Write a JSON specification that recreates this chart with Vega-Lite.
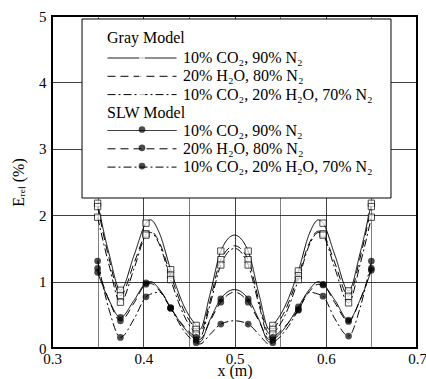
{
  "$schema": "https://vega.github.io/schema/vega-lite/v6.json",
  "width": 365,
  "height": 332,
  "autosize": "none",
  "padding": {"left": 52, "top": 16, "right": 9, "bottom": 31},
  "background": "white",
  "config": {
    "font": "Liberation Serif",
    "view": {"stroke": "black", "strokeWidth": 2},
    "axis": {
      "labelFont": "Liberation Serif",
      "titleFont": "Liberation Serif",
      "labelFontSize": 15,
      "titleFontSize": 16,
      "titleFontWeight": "normal",
      "labelColor": "black",
      "titleColor": "black",
      "domain": false,
      "ticks": false,
      "gridColor": "black",
      "gridOpacity": 1,
      "gridWidth": 1,
      "labelFlush": false,
      "labelOverlap": false
    },
    "legend": {
      "orient": "none",
      "padding": 0,
      "titleFont": "Liberation Serif",
      "titleFontSize": 16,
      "titleFontWeight": "normal",
      "titleColor": "black",
      "labelFont": "Liberation Serif",
      "labelFontSize": 16,
      "labelColor": "black",
      "labelLimit": 400,
      "clipHeight": 16,
      "rowPadding": 2.3,
      "symbolStrokeColor": "black",
      "symbolStrokeWidth": 1
    }
  },
  "datasets": {
    "curves": [
      {"model": "Gray", "case": "10% CO₂, 90% N₂", "x": 0.35, "y": 2.18},
      {"model": "Gray", "case": "10% CO₂, 90% N₂", "x": 0.3625, "y": 1.42},
      {"model": "Gray", "case": "10% CO₂, 90% N₂", "x": 0.375, "y": 0.87},
      {"model": "Gray", "case": "10% CO₂, 90% N₂", "x": 0.39, "y": 1.40},
      {"model": "Gray", "case": "10% CO₂, 90% N₂", "x": 0.403, "y": 1.88},
      {"model": "Gray", "case": "10% CO₂, 90% N₂", "x": 0.408, "y": 1.93},
      {"model": "Gray", "case": "10% CO₂, 90% N₂", "x": 0.418, "y": 1.72},
      {"model": "Gray", "case": "10% CO₂, 90% N₂", "x": 0.43, "y": 1.18},
      {"model": "Gray", "case": "10% CO₂, 90% N₂", "x": 0.445, "y": 0.62},
      {"model": "Gray", "case": "10% CO₂, 90% N₂", "x": 0.458, "y": 0.34},
      {"model": "Gray", "case": "10% CO₂, 90% N₂", "x": 0.462, "y": 0.28},
      {"model": "Gray", "case": "10% CO₂, 90% N₂", "x": 0.473, "y": 0.80},
      {"model": "Gray", "case": "10% CO₂, 90% N₂", "x": 0.485, "y": 1.46},
      {"model": "Gray", "case": "10% CO₂, 90% N₂", "x": 0.5, "y": 1.70},
      {"model": "Gray", "case": "10% CO₂, 90% N₂", "x": 0.515, "y": 1.46},
      {"model": "Gray", "case": "10% CO₂, 90% N₂", "x": 0.527, "y": 0.80},
      {"model": "Gray", "case": "10% CO₂, 90% N₂", "x": 0.538, "y": 0.28},
      {"model": "Gray", "case": "10% CO₂, 90% N₂", "x": 0.542, "y": 0.34},
      {"model": "Gray", "case": "10% CO₂, 90% N₂", "x": 0.555, "y": 0.62},
      {"model": "Gray", "case": "10% CO₂, 90% N₂", "x": 0.57, "y": 1.16},
      {"model": "Gray", "case": "10% CO₂, 90% N₂", "x": 0.582, "y": 1.72},
      {"model": "Gray", "case": "10% CO₂, 90% N₂", "x": 0.592, "y": 1.93},
      {"model": "Gray", "case": "10% CO₂, 90% N₂", "x": 0.597, "y": 1.88},
      {"model": "Gray", "case": "10% CO₂, 90% N₂", "x": 0.61, "y": 1.40},
      {"model": "Gray", "case": "10% CO₂, 90% N₂", "x": 0.625, "y": 0.86},
      {"model": "Gray", "case": "10% CO₂, 90% N₂", "x": 0.6375, "y": 1.42},
      {"model": "Gray", "case": "10% CO₂, 90% N₂", "x": 0.65, "y": 2.18},

      {"model": "Gray", "case": "20% H₂O, 80% N₂", "x": 0.35, "y": 2.13},
      {"model": "Gray", "case": "20% H₂O, 80% N₂", "x": 0.3625, "y": 1.35},
      {"model": "Gray", "case": "20% H₂O, 80% N₂", "x": 0.375, "y": 0.79},
      {"model": "Gray", "case": "20% H₂O, 80% N₂", "x": 0.39, "y": 1.28},
      {"model": "Gray", "case": "20% H₂O, 80% N₂", "x": 0.403, "y": 1.72},
      {"model": "Gray", "case": "20% H₂O, 80% N₂", "x": 0.408, "y": 1.76},
      {"model": "Gray", "case": "20% H₂O, 80% N₂", "x": 0.418, "y": 1.58},
      {"model": "Gray", "case": "20% H₂O, 80% N₂", "x": 0.43, "y": 1.10},
      {"model": "Gray", "case": "20% H₂O, 80% N₂", "x": 0.445, "y": 0.55},
      {"model": "Gray", "case": "20% H₂O, 80% N₂", "x": 0.458, "y": 0.28},
      {"model": "Gray", "case": "20% H₂O, 80% N₂", "x": 0.462, "y": 0.22},
      {"model": "Gray", "case": "20% H₂O, 80% N₂", "x": 0.473, "y": 0.70},
      {"model": "Gray", "case": "20% H₂O, 80% N₂", "x": 0.485, "y": 1.33},
      {"model": "Gray", "case": "20% H₂O, 80% N₂", "x": 0.5, "y": 1.54},
      {"model": "Gray", "case": "20% H₂O, 80% N₂", "x": 0.515, "y": 1.33},
      {"model": "Gray", "case": "20% H₂O, 80% N₂", "x": 0.527, "y": 0.70},
      {"model": "Gray", "case": "20% H₂O, 80% N₂", "x": 0.538, "y": 0.22},
      {"model": "Gray", "case": "20% H₂O, 80% N₂", "x": 0.542, "y": 0.28},
      {"model": "Gray", "case": "20% H₂O, 80% N₂", "x": 0.555, "y": 0.55},
      {"model": "Gray", "case": "20% H₂O, 80% N₂", "x": 0.57, "y": 1.09},
      {"model": "Gray", "case": "20% H₂O, 80% N₂", "x": 0.582, "y": 1.58},
      {"model": "Gray", "case": "20% H₂O, 80% N₂", "x": 0.592, "y": 1.76},
      {"model": "Gray", "case": "20% H₂O, 80% N₂", "x": 0.597, "y": 1.72},
      {"model": "Gray", "case": "20% H₂O, 80% N₂", "x": 0.61, "y": 1.28},
      {"model": "Gray", "case": "20% H₂O, 80% N₂", "x": 0.625, "y": 0.78},
      {"model": "Gray", "case": "20% H₂O, 80% N₂", "x": 0.6375, "y": 1.35},
      {"model": "Gray", "case": "20% H₂O, 80% N₂", "x": 0.65, "y": 2.13},

      {"model": "Gray", "case": "10% CO₂, 20% H₂O, 70% N₂", "x": 0.35, "y": 1.97},
      {"model": "Gray", "case": "10% CO₂, 20% H₂O, 70% N₂", "x": 0.3625, "y": 1.25},
      {"model": "Gray", "case": "10% CO₂, 20% H₂O, 70% N₂", "x": 0.375, "y": 0.69},
      {"model": "Gray", "case": "10% CO₂, 20% H₂O, 70% N₂", "x": 0.39, "y": 1.20},
      {"model": "Gray", "case": "10% CO₂, 20% H₂O, 70% N₂", "x": 0.403, "y": 1.70},
      {"model": "Gray", "case": "10% CO₂, 20% H₂O, 70% N₂", "x": 0.408, "y": 1.74},
      {"model": "Gray", "case": "10% CO₂, 20% H₂O, 70% N₂", "x": 0.418, "y": 1.55},
      {"model": "Gray", "case": "10% CO₂, 20% H₂O, 70% N₂", "x": 0.43, "y": 1.03},
      {"model": "Gray", "case": "10% CO₂, 20% H₂O, 70% N₂", "x": 0.445, "y": 0.48},
      {"model": "Gray", "case": "10% CO₂, 20% H₂O, 70% N₂", "x": 0.458, "y": 0.21},
      {"model": "Gray", "case": "10% CO₂, 20% H₂O, 70% N₂", "x": 0.462, "y": 0.16},
      {"model": "Gray", "case": "10% CO₂, 20% H₂O, 70% N₂", "x": 0.473, "y": 0.64},
      {"model": "Gray", "case": "10% CO₂, 20% H₂O, 70% N₂", "x": 0.485, "y": 1.25},
      {"model": "Gray", "case": "10% CO₂, 20% H₂O, 70% N₂", "x": 0.5, "y": 1.50},
      {"model": "Gray", "case": "10% CO₂, 20% H₂O, 70% N₂", "x": 0.515, "y": 1.25},
      {"model": "Gray", "case": "10% CO₂, 20% H₂O, 70% N₂", "x": 0.527, "y": 0.64},
      {"model": "Gray", "case": "10% CO₂, 20% H₂O, 70% N₂", "x": 0.538, "y": 0.16},
      {"model": "Gray", "case": "10% CO₂, 20% H₂O, 70% N₂", "x": 0.542, "y": 0.21},
      {"model": "Gray", "case": "10% CO₂, 20% H₂O, 70% N₂", "x": 0.555, "y": 0.48},
      {"model": "Gray", "case": "10% CO₂, 20% H₂O, 70% N₂", "x": 0.57, "y": 1.03},
      {"model": "Gray", "case": "10% CO₂, 20% H₂O, 70% N₂", "x": 0.582, "y": 1.55},
      {"model": "Gray", "case": "10% CO₂, 20% H₂O, 70% N₂", "x": 0.592, "y": 1.74},
      {"model": "Gray", "case": "10% CO₂, 20% H₂O, 70% N₂", "x": 0.597, "y": 1.70},
      {"model": "Gray", "case": "10% CO₂, 20% H₂O, 70% N₂", "x": 0.61, "y": 1.20},
      {"model": "Gray", "case": "10% CO₂, 20% H₂O, 70% N₂", "x": 0.625, "y": 0.68},
      {"model": "Gray", "case": "10% CO₂, 20% H₂O, 70% N₂", "x": 0.6375, "y": 1.25},
      {"model": "Gray", "case": "10% CO₂, 20% H₂O, 70% N₂", "x": 0.65, "y": 1.97},

      {"model": "SLW", "case": "10% CO₂, 90% N₂", "x": 0.35, "y": 1.14},
      {"model": "SLW", "case": "10% CO₂, 90% N₂", "x": 0.3625, "y": 0.72},
      {"model": "SLW", "case": "10% CO₂, 90% N₂", "x": 0.375, "y": 0.46},
      {"model": "SLW", "case": "10% CO₂, 90% N₂", "x": 0.39, "y": 0.72},
      {"model": "SLW", "case": "10% CO₂, 90% N₂", "x": 0.403, "y": 0.98},
      {"model": "SLW", "case": "10% CO₂, 90% N₂", "x": 0.408, "y": 1.00},
      {"model": "SLW", "case": "10% CO₂, 90% N₂", "x": 0.418, "y": 0.88},
      {"model": "SLW", "case": "10% CO₂, 90% N₂", "x": 0.43, "y": 0.61},
      {"model": "SLW", "case": "10% CO₂, 90% N₂", "x": 0.445, "y": 0.30},
      {"model": "SLW", "case": "10% CO₂, 90% N₂", "x": 0.458, "y": 0.12},
      {"model": "SLW", "case": "10% CO₂, 90% N₂", "x": 0.462, "y": 0.09},
      {"model": "SLW", "case": "10% CO₂, 90% N₂", "x": 0.473, "y": 0.42},
      {"model": "SLW", "case": "10% CO₂, 90% N₂", "x": 0.485, "y": 0.74},
      {"model": "SLW", "case": "10% CO₂, 90% N₂", "x": 0.5, "y": 0.88},
      {"model": "SLW", "case": "10% CO₂, 90% N₂", "x": 0.515, "y": 0.74},
      {"model": "SLW", "case": "10% CO₂, 90% N₂", "x": 0.527, "y": 0.42},
      {"model": "SLW", "case": "10% CO₂, 90% N₂", "x": 0.538, "y": 0.09},
      {"model": "SLW", "case": "10% CO₂, 90% N₂", "x": 0.542, "y": 0.12},
      {"model": "SLW", "case": "10% CO₂, 90% N₂", "x": 0.555, "y": 0.30},
      {"model": "SLW", "case": "10% CO₂, 90% N₂", "x": 0.57, "y": 0.62},
      {"model": "SLW", "case": "10% CO₂, 90% N₂", "x": 0.582, "y": 0.88},
      {"model": "SLW", "case": "10% CO₂, 90% N₂", "x": 0.592, "y": 1.00},
      {"model": "SLW", "case": "10% CO₂, 90% N₂", "x": 0.597, "y": 0.96},
      {"model": "SLW", "case": "10% CO₂, 90% N₂", "x": 0.61, "y": 0.72},
      {"model": "SLW", "case": "10% CO₂, 90% N₂", "x": 0.625, "y": 0.42},
      {"model": "SLW", "case": "10% CO₂, 90% N₂", "x": 0.6375, "y": 0.72},
      {"model": "SLW", "case": "10% CO₂, 90% N₂", "x": 0.65, "y": 1.17},

      {"model": "SLW", "case": "20% H₂O, 80% N₂", "x": 0.35, "y": 1.20},
      {"model": "SLW", "case": "20% H₂O, 80% N₂", "x": 0.3625, "y": 0.72},
      {"model": "SLW", "case": "20% H₂O, 80% N₂", "x": 0.375, "y": 0.41},
      {"model": "SLW", "case": "20% H₂O, 80% N₂", "x": 0.39, "y": 0.68},
      {"model": "SLW", "case": "20% H₂O, 80% N₂", "x": 0.403, "y": 0.96},
      {"model": "SLW", "case": "20% H₂O, 80% N₂", "x": 0.408, "y": 0.97},
      {"model": "SLW", "case": "20% H₂O, 80% N₂", "x": 0.418, "y": 0.86},
      {"model": "SLW", "case": "20% H₂O, 80% N₂", "x": 0.43, "y": 0.60},
      {"model": "SLW", "case": "20% H₂O, 80% N₂", "x": 0.445, "y": 0.32},
      {"model": "SLW", "case": "20% H₂O, 80% N₂", "x": 0.458, "y": 0.16},
      {"model": "SLW", "case": "20% H₂O, 80% N₂", "x": 0.462, "y": 0.13},
      {"model": "SLW", "case": "20% H₂O, 80% N₂", "x": 0.473, "y": 0.40},
      {"model": "SLW", "case": "20% H₂O, 80% N₂", "x": 0.485, "y": 0.69},
      {"model": "SLW", "case": "20% H₂O, 80% N₂", "x": 0.5, "y": 0.84},
      {"model": "SLW", "case": "20% H₂O, 80% N₂", "x": 0.515, "y": 0.69},
      {"model": "SLW", "case": "20% H₂O, 80% N₂", "x": 0.527, "y": 0.40},
      {"model": "SLW", "case": "20% H₂O, 80% N₂", "x": 0.538, "y": 0.13},
      {"model": "SLW", "case": "20% H₂O, 80% N₂", "x": 0.542, "y": 0.16},
      {"model": "SLW", "case": "20% H₂O, 80% N₂", "x": 0.555, "y": 0.32},
      {"model": "SLW", "case": "20% H₂O, 80% N₂", "x": 0.57, "y": 0.58},
      {"model": "SLW", "case": "20% H₂O, 80% N₂", "x": 0.582, "y": 0.85},
      {"model": "SLW", "case": "20% H₂O, 80% N₂", "x": 0.592, "y": 0.96},
      {"model": "SLW", "case": "20% H₂O, 80% N₂", "x": 0.597, "y": 0.95},
      {"model": "SLW", "case": "20% H₂O, 80% N₂", "x": 0.61, "y": 0.68},
      {"model": "SLW", "case": "20% H₂O, 80% N₂", "x": 0.625, "y": 0.40},
      {"model": "SLW", "case": "20% H₂O, 80% N₂", "x": 0.6375, "y": 0.72},
      {"model": "SLW", "case": "20% H₂O, 80% N₂", "x": 0.65, "y": 1.20},

      {"model": "SLW", "case": "10% CO₂, 20% H₂O, 70% N₂", "x": 0.35, "y": 1.31},
      {"model": "SLW", "case": "10% CO₂, 20% H₂O, 70% N₂", "x": 0.3625, "y": 0.58},
      {"model": "SLW", "case": "10% CO₂, 20% H₂O, 70% N₂", "x": 0.375, "y": 0.16},
      {"model": "SLW", "case": "10% CO₂, 20% H₂O, 70% N₂", "x": 0.39, "y": 0.44},
      {"model": "SLW", "case": "10% CO₂, 20% H₂O, 70% N₂", "x": 0.403, "y": 0.77},
      {"model": "SLW", "case": "10% CO₂, 20% H₂O, 70% N₂", "x": 0.408, "y": 0.81},
      {"model": "SLW", "case": "10% CO₂, 20% H₂O, 70% N₂", "x": 0.418, "y": 0.84},
      {"model": "SLW", "case": "10% CO₂, 20% H₂O, 70% N₂", "x": 0.43, "y": 0.60},
      {"model": "SLW", "case": "10% CO₂, 20% H₂O, 70% N₂", "x": 0.445, "y": 0.25},
      {"model": "SLW", "case": "10% CO₂, 20% H₂O, 70% N₂", "x": 0.458, "y": 0.08},
      {"model": "SLW", "case": "10% CO₂, 20% H₂O, 70% N₂", "x": 0.462, "y": 0.06},
      {"model": "SLW", "case": "10% CO₂, 20% H₂O, 70% N₂", "x": 0.473, "y": 0.20},
      {"model": "SLW", "case": "10% CO₂, 20% H₂O, 70% N₂", "x": 0.485, "y": 0.36},
      {"model": "SLW", "case": "10% CO₂, 20% H₂O, 70% N₂", "x": 0.5, "y": 0.41},
      {"model": "SLW", "case": "10% CO₂, 20% H₂O, 70% N₂", "x": 0.515, "y": 0.36},
      {"model": "SLW", "case": "10% CO₂, 20% H₂O, 70% N₂", "x": 0.527, "y": 0.20},
      {"model": "SLW", "case": "10% CO₂, 20% H₂O, 70% N₂", "x": 0.538, "y": 0.06},
      {"model": "SLW", "case": "10% CO₂, 20% H₂O, 70% N₂", "x": 0.542, "y": 0.08},
      {"model": "SLW", "case": "10% CO₂, 20% H₂O, 70% N₂", "x": 0.555, "y": 0.25},
      {"model": "SLW", "case": "10% CO₂, 20% H₂O, 70% N₂", "x": 0.57, "y": 0.57},
      {"model": "SLW", "case": "10% CO₂, 20% H₂O, 70% N₂", "x": 0.582, "y": 0.84},
      {"model": "SLW", "case": "10% CO₂, 20% H₂O, 70% N₂", "x": 0.592, "y": 0.81},
      {"model": "SLW", "case": "10% CO₂, 20% H₂O, 70% N₂", "x": 0.597, "y": 0.78},
      {"model": "SLW", "case": "10% CO₂, 20% H₂O, 70% N₂", "x": 0.61, "y": 0.44},
      {"model": "SLW", "case": "10% CO₂, 20% H₂O, 70% N₂", "x": 0.625, "y": 0.18},
      {"model": "SLW", "case": "10% CO₂, 20% H₂O, 70% N₂", "x": 0.6375, "y": 0.60},
      {"model": "SLW", "case": "10% CO₂, 20% H₂O, 70% N₂", "x": 0.65, "y": 1.31}
    ],
    "markers": [
      {"model": "Gray", "case": "10% CO₂, 90% N₂", "x": 0.35, "y": 2.18},
      {"model": "Gray", "case": "10% CO₂, 90% N₂", "x": 0.375, "y": 0.87},
      {"model": "Gray", "case": "10% CO₂, 90% N₂", "x": 0.403, "y": 1.88},
      {"model": "Gray", "case": "10% CO₂, 90% N₂", "x": 0.43, "y": 1.18},
      {"model": "Gray", "case": "10% CO₂, 90% N₂", "x": 0.458, "y": 0.34},
      {"model": "Gray", "case": "10% CO₂, 90% N₂", "x": 0.485, "y": 1.46},
      {"model": "Gray", "case": "10% CO₂, 90% N₂", "x": 0.515, "y": 1.46},
      {"model": "Gray", "case": "10% CO₂, 90% N₂", "x": 0.542, "y": 0.34},
      {"model": "Gray", "case": "10% CO₂, 90% N₂", "x": 0.57, "y": 1.16},
      {"model": "Gray", "case": "10% CO₂, 90% N₂", "x": 0.597, "y": 1.88},
      {"model": "Gray", "case": "10% CO₂, 90% N₂", "x": 0.625, "y": 0.86},
      {"model": "Gray", "case": "10% CO₂, 90% N₂", "x": 0.65, "y": 2.18},
      {"model": "Gray", "case": "20% H₂O, 80% N₂", "x": 0.35, "y": 2.13},
      {"model": "Gray", "case": "20% H₂O, 80% N₂", "x": 0.375, "y": 0.79},
      {"model": "Gray", "case": "20% H₂O, 80% N₂", "x": 0.403, "y": 1.72},
      {"model": "Gray", "case": "20% H₂O, 80% N₂", "x": 0.43, "y": 1.10},
      {"model": "Gray", "case": "20% H₂O, 80% N₂", "x": 0.458, "y": 0.28},
      {"model": "Gray", "case": "20% H₂O, 80% N₂", "x": 0.485, "y": 1.33},
      {"model": "Gray", "case": "20% H₂O, 80% N₂", "x": 0.515, "y": 1.33},
      {"model": "Gray", "case": "20% H₂O, 80% N₂", "x": 0.542, "y": 0.28},
      {"model": "Gray", "case": "20% H₂O, 80% N₂", "x": 0.57, "y": 1.09},
      {"model": "Gray", "case": "20% H₂O, 80% N₂", "x": 0.597, "y": 1.72},
      {"model": "Gray", "case": "20% H₂O, 80% N₂", "x": 0.625, "y": 0.78},
      {"model": "Gray", "case": "20% H₂O, 80% N₂", "x": 0.65, "y": 2.13},
      {"model": "Gray", "case": "10% CO₂, 20% H₂O, 70% N₂", "x": 0.35, "y": 1.97},
      {"model": "Gray", "case": "10% CO₂, 20% H₂O, 70% N₂", "x": 0.375, "y": 0.69},
      {"model": "Gray", "case": "10% CO₂, 20% H₂O, 70% N₂", "x": 0.403, "y": 1.70},
      {"model": "Gray", "case": "10% CO₂, 20% H₂O, 70% N₂", "x": 0.43, "y": 1.03},
      {"model": "Gray", "case": "10% CO₂, 20% H₂O, 70% N₂", "x": 0.458, "y": 0.21},
      {"model": "Gray", "case": "10% CO₂, 20% H₂O, 70% N₂", "x": 0.485, "y": 1.25},
      {"model": "Gray", "case": "10% CO₂, 20% H₂O, 70% N₂", "x": 0.515, "y": 1.25},
      {"model": "Gray", "case": "10% CO₂, 20% H₂O, 70% N₂", "x": 0.542, "y": 0.21},
      {"model": "Gray", "case": "10% CO₂, 20% H₂O, 70% N₂", "x": 0.57, "y": 1.03},
      {"model": "Gray", "case": "10% CO₂, 20% H₂O, 70% N₂", "x": 0.597, "y": 1.70},
      {"model": "Gray", "case": "10% CO₂, 20% H₂O, 70% N₂", "x": 0.625, "y": 0.68},
      {"model": "Gray", "case": "10% CO₂, 20% H₂O, 70% N₂", "x": 0.65, "y": 1.97},
      {"model": "SLW", "case": "10% CO₂, 90% N₂", "x": 0.35, "y": 1.14},
      {"model": "SLW", "case": "10% CO₂, 90% N₂", "x": 0.375, "y": 0.46},
      {"model": "SLW", "case": "10% CO₂, 90% N₂", "x": 0.403, "y": 0.98},
      {"model": "SLW", "case": "10% CO₂, 90% N₂", "x": 0.43, "y": 0.61},
      {"model": "SLW", "case": "10% CO₂, 90% N₂", "x": 0.458, "y": 0.12},
      {"model": "SLW", "case": "10% CO₂, 90% N₂", "x": 0.485, "y": 0.74},
      {"model": "SLW", "case": "10% CO₂, 90% N₂", "x": 0.515, "y": 0.74},
      {"model": "SLW", "case": "10% CO₂, 90% N₂", "x": 0.542, "y": 0.12},
      {"model": "SLW", "case": "10% CO₂, 90% N₂", "x": 0.57, "y": 0.62},
      {"model": "SLW", "case": "10% CO₂, 90% N₂", "x": 0.597, "y": 0.96},
      {"model": "SLW", "case": "10% CO₂, 90% N₂", "x": 0.625, "y": 0.42},
      {"model": "SLW", "case": "10% CO₂, 90% N₂", "x": 0.65, "y": 1.17},
      {"model": "SLW", "case": "20% H₂O, 80% N₂", "x": 0.35, "y": 1.20},
      {"model": "SLW", "case": "20% H₂O, 80% N₂", "x": 0.375, "y": 0.41},
      {"model": "SLW", "case": "20% H₂O, 80% N₂", "x": 0.403, "y": 0.96},
      {"model": "SLW", "case": "20% H₂O, 80% N₂", "x": 0.43, "y": 0.60},
      {"model": "SLW", "case": "20% H₂O, 80% N₂", "x": 0.458, "y": 0.16},
      {"model": "SLW", "case": "20% H₂O, 80% N₂", "x": 0.485, "y": 0.69},
      {"model": "SLW", "case": "20% H₂O, 80% N₂", "x": 0.515, "y": 0.69},
      {"model": "SLW", "case": "20% H₂O, 80% N₂", "x": 0.542, "y": 0.16},
      {"model": "SLW", "case": "20% H₂O, 80% N₂", "x": 0.57, "y": 0.58},
      {"model": "SLW", "case": "20% H₂O, 80% N₂", "x": 0.597, "y": 0.95},
      {"model": "SLW", "case": "20% H₂O, 80% N₂", "x": 0.625, "y": 0.40},
      {"model": "SLW", "case": "20% H₂O, 80% N₂", "x": 0.65, "y": 1.20},
      {"model": "SLW", "case": "10% CO₂, 20% H₂O, 70% N₂", "x": 0.35, "y": 1.31},
      {"model": "SLW", "case": "10% CO₂, 20% H₂O, 70% N₂", "x": 0.375, "y": 0.16},
      {"model": "SLW", "case": "10% CO₂, 20% H₂O, 70% N₂", "x": 0.403, "y": 0.77},
      {"model": "SLW", "case": "10% CO₂, 20% H₂O, 70% N₂", "x": 0.43, "y": 0.60},
      {"model": "SLW", "case": "10% CO₂, 20% H₂O, 70% N₂", "x": 0.458, "y": 0.08},
      {"model": "SLW", "case": "10% CO₂, 20% H₂O, 70% N₂", "x": 0.485, "y": 0.36},
      {"model": "SLW", "case": "10% CO₂, 20% H₂O, 70% N₂", "x": 0.515, "y": 0.36},
      {"model": "SLW", "case": "10% CO₂, 20% H₂O, 70% N₂", "x": 0.542, "y": 0.08},
      {"model": "SLW", "case": "10% CO₂, 20% H₂O, 70% N₂", "x": 0.57, "y": 0.57},
      {"model": "SLW", "case": "10% CO₂, 20% H₂O, 70% N₂", "x": 0.597, "y": 0.78},
      {"model": "SLW", "case": "10% CO₂, 20% H₂O, 70% N₂", "x": 0.625, "y": 0.18},
      {"model": "SLW", "case": "10% CO₂, 20% H₂O, 70% N₂", "x": 0.65, "y": 1.31}
    ]
  },
  "layer": [
    {
      "description": "white legend box",
      "data": {"values": [{}]},
      "mark": {"type": "rect", "fill": "white", "stroke": "black", "strokeWidth": 1},
      "encoding": {
        "x": {"datum": 0.3329, "type": "quantitative", "scale": {"domain": [0.3, 0.7], "nice": false, "zero": false},
          "axis": {
            "orient": "bottom",
            "values": [0.3, 0.35, 0.4, 0.45, 0.5, 0.55, 0.6, 0.65, 0.7],
            "labelExpr": "round(datum.value * 100) % 10 == 0 ? format(datum.value, '.1f') : ''",
            "grid": true,
            "gridDash": {"condition": {"test": "round(datum.value * 100) % 10 == 0", "value": [1, 0]}, "value": [1, 1]},
            "labelPadding": 3,
            "title": "x (m)",
            "titlePadding": -4
          }
        },
        "x2": {"datum": 0.6715},
        "y": {"datum": 4.955, "type": "quantitative", "scale": {"domain": [0, 5], "nice": false, "zero": false},
          "axis": {
            "orient": "left",
            "values": [0, 0.5, 1, 1.5, 2, 2.5, 3, 3.5, 4, 4.5, 5],
            "labelExpr": "round(datum.value * 10) % 10 == 0 ? format(datum.value, 'd') : ''",
            "grid": true,
            "gridDash": {"condition": {"test": "round(datum.value * 10) % 10 == 0", "value": [1, 0]}, "value": [1, 1]},
            "labelPadding": 6,
            "title": "Eᵣₑₗ (%)",
            "titlePadding": 12
          }
        },
        "y2": {"datum": 2.259}
      }
    },
    {
      "data": {"name": "curves"},
      "transform": [{"filter": "datum.model == 'Gray'"}],
      "mark": {"type": "line", "interpolate": "monotone", "color": "black", "strokeWidth": 1},
      "encoding": {
        "x": {"field": "x", "type": "quantitative", "scale": {"domain": [0.3, 0.7], "nice": false, "zero": false}},
        "y": {"field": "y", "type": "quantitative", "scale": {"domain": [0, 5], "nice": false, "zero": false}},
        "strokeDash": {
          "field": "case", "type": "nominal",
          "scale": {"domain": ["10% CO₂, 90% N₂", "20% H₂O, 80% N₂", "10% CO₂, 20% H₂O, 70% N₂"], "range": [[1, 0], [8, 5], [8, 3, 2, 3]]},
          "legend": {"title": "Gray Model", "legendX": 55, "legendY": 14, "titlePadding": 4, "symbolType": "stroke", "symbolSize": 4761, "labelOffset": 6}
        }
      }
    },
    {
      "data": {"name": "markers"},
      "transform": [{"filter": "datum.model == 'Gray'"}],
      "mark": {"type": "point", "filled": false, "fill": "white", "stroke": "black", "strokeWidth": 1, "size": 40},
      "encoding": {
        "x": {"field": "x", "type": "quantitative"},
        "y": {"field": "y", "type": "quantitative"},
        "shape": {
          "field": "case", "type": "nominal",
          "scale": {"range": ["square", "square", "square"]},
          "legend": {"title": null, "labelExpr": "''", "legendX": 82, "legendY": 33, "symbolSize": 36, "symbolFillColor": "white", "symbolStrokeColor": "black", "symbolStrokeWidth": 1.2}
        }
      }
    },
    {
      "data": {"name": "curves"},
      "transform": [{"filter": "datum.model == 'SLW'"}],
      "mark": {"type": "line", "interpolate": "monotone", "color": "black", "strokeWidth": 1},
      "encoding": {
        "x": {"field": "x", "type": "quantitative"},
        "y": {"field": "y", "type": "quantitative"},
        "strokeDash": {
          "field": "case", "type": "nominal",
          "scale": {"domain": ["10% CO₂, 90% N₂", "20% H₂O, 80% N₂", "10% CO₂, 20% H₂O, 70% N₂"], "range": [[1, 0], [8, 5], [8, 3, 2, 3]]},
          "legend": {"title": "SLW Model", "legendX": 55, "legendY": 89, "titlePadding": 1.5, "symbolType": "stroke", "symbolSize": 4761, "labelOffset": 6}
        }
      }
    },
    {
      "data": {"name": "markers"},
      "transform": [{"filter": "datum.model == 'SLW'"}],
      "mark": {"type": "point", "filled": true, "color": "black", "size": 45},
      "encoding": {
        "x": {"field": "x", "type": "quantitative"},
        "y": {"field": "y", "type": "quantitative"},
        "shape": {
          "field": "case", "type": "nominal",
          "scale": {"range": ["circle", "circle", "circle"]},
          "legend": {"title": null, "labelExpr": "''", "legendX": 82, "legendY": 105.5, "symbolSize": 45}
        }
      }
    }
  ],
  "resolve": {"scale": {"strokeDash": "independent", "shape": "independent"}}
}
